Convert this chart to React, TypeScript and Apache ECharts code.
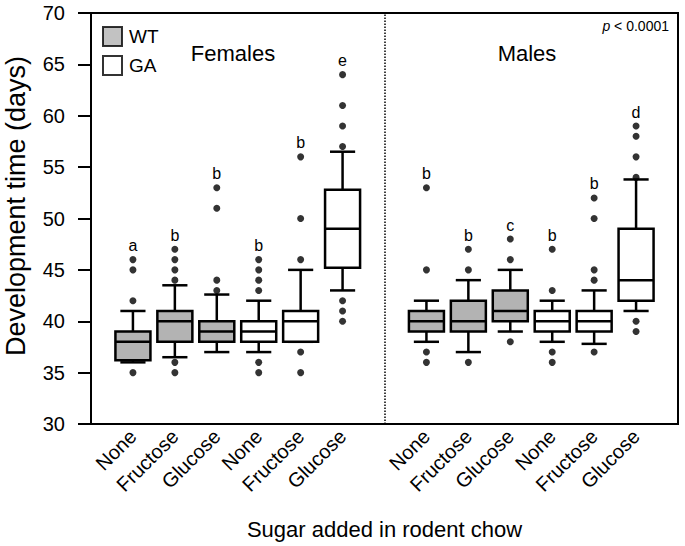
import React, { useEffect, useRef } from "react";
import * as echarts from "echarts";

const FONT = "'Liberation Sans', Arial, Helvetica, sans-serif";

// x positions on a category axis (blank slots at the panel edges / divider)
const categories = ["", "None", "Fructose", "Glucose", "None", "Fructose", "Glucose", "", "None", "Fructose", "Glucose", "None", "Fructose", "Glucose", ""];
const boxCategoryIndex = [1, 2, 3, 4, 5, 6, 8, 9, 10, 11, 12, 13];
const boxGenotype = ["WT", "WT", "WT", "GA", "GA", "GA", "WT", "WT", "WT", "GA", "GA", "GA"];

// box statistics (days)
const whiskerLow = [36, 36.5, 37, 37, 38, 43, 38, 37, 39, 38, 37.8, 41];
const q1 = [36.2, 38, 38, 38, 38, 45.2, 39, 39, 40, 39, 39, 42];
const median = [38, 40, 39, 39, 40, 49, 40, 40, 41, 40, 40, 44];
const q3 = [39, 41, 40, 40, 41, 52.8, 41, 42, 43, 41, 41, 49];
const whiskerHigh = [41, 43.5, 42.6, 42, 45, 56.5, 42, 44, 45, 42, 43, 53.8];
const outliers = [
  [35, 42, 45, 46],
  [35, 36, 44, 45, 46, 47],
  [43, 44, 51, 53],
  [35, 36, 43, 44, 45, 46],
  [35, 37, 46, 50, 56],
  [40, 41, 42, 57, 59, 61, 64],
  [36, 37, 45, 53],
  [36, 45, 47],
  [38, 46, 48],
  [36, 37, 43, 47],
  [37, 44, 45, 50, 52],
  [39, 40, 54, 56, 58, 59],
];
const letters = ["a", "b", "b", "b", "b", "e", "b", "b", "c", "b", "b", "d"];

const WT_COLOR = "#b3b3b3";
const GA_COLOR = "#ffffff";

export default function App() {
  const ref = useRef<HTMLDivElement>(null);

  useEffect(() => {
    document.body.style.margin = "0";
    const chart = echarts.init(ref.current as HTMLDivElement, null, { renderer: "svg" });

    const boxData = boxCategoryIndex.map((c, i) => [
      c,
      whiskerLow[i],
      q1[i],
      median[i],
      q3[i],
      whiskerHigh[i],
      boxGenotype[i] === "WT" ? 1 : 0,
    ]);
    const outlierData: number[][] = [];
    outliers.forEach((list, i) => list.forEach((v) => outlierData.push([boxCategoryIndex[i], v])));
    const letterData = boxCategoryIndex.map((c, i) => [c, Math.max(whiskerHigh[i], ...outliers[i])]);

    const renderItem = (params: any, api: any) => {
      const x = api.value(0);
      const pMin = api.coord([x, api.value(1)]);
      const pQ1 = api.coord([x, api.value(2)]);
      const pMed = api.coord([x, api.value(3)]);
      const pQ3 = api.coord([x, api.value(4)]);
      const pMax = api.coord([x, api.value(5)]);
      const band = api.size([1, 0])[0];
      const bw = band * 0.835;
      const cw = band * 0.6;
      const cx = pMed[0];
      const fill = api.value(6) === 1 ? WT_COLOR : GA_COLOR;
      const ls = { stroke: "#000", lineWidth: 2.5 };
      return {
        type: "group",
        children: [
          { type: "line", shape: { x1: cx, y1: pQ3[1], x2: cx, y2: pMax[1] }, style: ls },
          { type: "line", shape: { x1: cx, y1: pQ1[1], x2: cx, y2: pMin[1] }, style: ls },
          { type: "line", shape: { x1: cx - cw / 2, y1: pMax[1], x2: cx + cw / 2, y2: pMax[1] }, style: ls },
          { type: "line", shape: { x1: cx - cw / 2, y1: pMin[1], x2: cx + cw / 2, y2: pMin[1] }, style: ls },
          {
            type: "rect",
            shape: { x: cx - bw / 2, y: pQ3[1], width: bw, height: pQ1[1] - pQ3[1] },
            style: { fill, stroke: "#000", lineWidth: 2.5 },
          },
          { type: "line", shape: { x1: cx - bw / 2, y1: pMed[1], x2: cx + bw / 2, y2: pMed[1] }, style: ls },
        ],
      };
    };

    const option: any = {
      animation: false,
      textStyle: { fontFamily: FONT },
      grid: {
        left: 91,
        right: 7,
        top: 13,
        bottom: 122,
        show: true,
        borderColor: "#000",
        borderWidth: 2,
        backgroundColor: "transparent",
      },
      legend: {
        orient: "vertical",
        left: 97,
        top: 21,
        itemWidth: 19,
        itemHeight: 19,
        itemGap: 8,
        selectedMode: false,
        textStyle: { fontSize: 19, color: "#000", fontFamily: FONT, padding: [0, 0, 0, 2] },
        data: [
          { name: "WT", icon: "rect", itemStyle: { color: WT_COLOR, borderColor: "#000", borderWidth: 2 } },
          { name: "GA", icon: "rect", itemStyle: { color: GA_COLOR, borderColor: "#000", borderWidth: 2 } },
        ],
      },
      xAxis: {
        type: "category",
        data: categories,
        boundaryGap: false,
        axisLine: { lineStyle: { color: "#000", width: 2 } },
        axisTick: { show: false },
        axisLabel: { interval: 0, rotate: 45, fontSize: 20, color: "#000", margin: 9, fontFamily: FONT },
        splitLine: { show: false },
        name: "Sugar added in rodent chow",
        nameLocation: "middle",
        nameGap: 94,
        nameTextStyle: { fontSize: 22, color: "#000", fontFamily: FONT },
      },
      yAxis: {
        type: "value",
        min: 30,
        max: 70,
        interval: 5,
        axisLine: { show: true, lineStyle: { color: "#000", width: 2 } },
        axisTick: { show: true, length: 13, lineStyle: { color: "#000", width: 2 } },
        axisLabel: { fontSize: 20, color: "#000", margin: 26, fontFamily: FONT },
        splitLine: { show: false },
      },
      graphic: [
        {
          type: "text",
          x: 16,
          y: 206,
          rotation: Math.PI / 2,
          style: {
            text: "Development time (days)",
            font: `27px ${FONT}`,
            fill: "#000",
            align: "center",
            verticalAlign: "middle",
          },
        },
        {
          type: "text",
          x: 233,
          y: 53,
          style: { text: "Females", font: `22px ${FONT}`, fill: "#000", align: "center", verticalAlign: "middle" },
        },
        {
          type: "text",
          x: 527,
          y: 53,
          style: { text: "Males", font: `22px ${FONT}`, fill: "#000", align: "center", verticalAlign: "middle" },
        },
        {
          type: "text",
          x: 669,
          y: 26,
          style: {
            text: "{i|p} < 0.0001",
            font: `14px ${FONT}`,
            fill: "#000",
            align: "right",
            verticalAlign: "middle",
            rich: { i: { fontStyle: "italic", fontSize: 14, fontFamily: FONT, fill: "#000" } },
          },
        },
      ],
      series: [
        {
          type: "custom",
          name: "boxes",
          coordinateSystem: "cartesian2d",
          encode: { x: 0, y: [1, 2, 3, 4, 5] },
          data: boxData,
          renderItem,
          silent: true,
          markLine: {
            silent: true,
            symbol: "none",
            label: { show: false },
            lineStyle: { type: "dotted", color: "#000", width: 1.5 },
            data: [{ xAxis: 7 }],
          },
        },
        {
          type: "scatter",
          name: "outliers",
          data: outlierData,
          symbol: "circle",
          symbolSize: 7,
          itemStyle: { color: "#000" },
          silent: true,
          z: 5,
        },
        {
          type: "scatter",
          name: "letters",
          data: letterData,
          symbolSize: 0,
          itemStyle: { color: "#000", opacity: 1 },
          silent: true,
          label: {
            show: true,
            position: "top",
            distance: 6,
            fontSize: 16,
            color: "#000",
            opacity: 1,
            fontFamily: FONT,
            formatter: (p: any) => letters[p.dataIndex],
          },
        },
        { type: "scatter", name: "WT", data: [], itemStyle: { color: WT_COLOR } },
        { type: "scatter", name: "GA", data: [], itemStyle: { color: GA_COLOR } },
      ],
    };

    chart.setOption(option);
    return () => chart.dispose();
  }, []);

  return <div ref={ref} style={{ width: 685, height: 546 }} />;
}
